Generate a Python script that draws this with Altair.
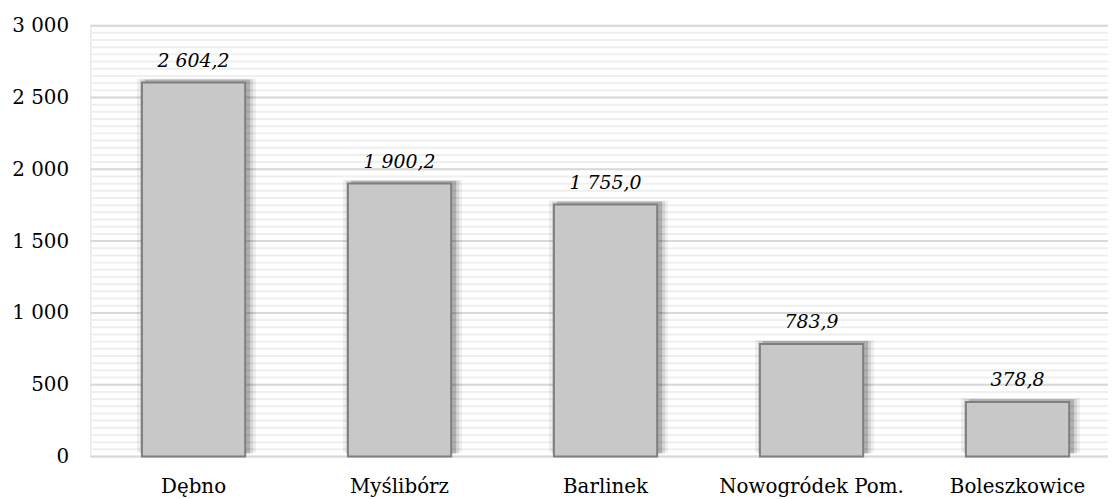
import altair as alt
import pandas as pd

categories = ["Dębno", "Myślibórz", "Barlinek", "Nowogródek Pom.", "Boleszkowice"]
values = [2604.2, 1900.2, 1755.0, 783.9, 378.8]
y_ticks = [0, 500, 1000, 1500, 2000, 2500, 3000]
minor_ticks = list(range(0, 3001, 50))

df = pd.DataFrame({"cat": categories, "val": values})
grid_df = pd.DataFrame({"val": minor_ticks})
major_df = pd.DataFrame({"val": y_ticks})

FONT = "DejaVu Serif"
W, H = 1025, 434

x_enc = alt.X("cat:N", sort=categories, title=None,
              scale=alt.Scale(paddingInner=0.5, paddingOuter=0.22, align=0.57),
              axis=alt.Axis(labelFont=FONT, labelFontSize=20, labelColor="#000000",
                            labelAngle=0, domain=False, ticks=False, labelPadding=20,
                            labelBaseline="top", labelLimit=0))
y_enc = alt.Y("val:Q", scale=alt.Scale(domain=[0, 3000], nice=False), title=None,
              axis=alt.Axis(values=y_ticks, labelFont=FONT, labelFontSize=20,
                            labelColor="#000000", domain=False, ticks=False, grid=False,
                            labelPadding=22,
                            labelExpr="replace(format(datum.value, ',.0f'), ',', ' ')"))

minor = alt.Chart(grid_df).mark_rule(color="#efefef", strokeWidth=2).encode(y=y_enc)
major = alt.Chart(major_df).mark_rule(color="#d9d9d9", strokeWidth=2).encode(y=y_enc)

base = alt.Chart(df)
shadow0 = base.mark_bar(color="#000000", opacity=0.06, size=120, xOffset=3, yOffset=-4).encode(
    x=x_enc, y=y_enc)
shadow1 = base.mark_bar(color="#000000", opacity=0.10, size=114, xOffset=3, yOffset=-3).encode(
    x=x_enc, y=y_enc)
shadow2 = base.mark_bar(color="#000000", opacity=0.18, size=106, xOffset=4, yOffset=-3).encode(
    x=x_enc, y=y_enc)
bars = base.mark_bar(fill="#c8c8c8", stroke="#7f7f7f", strokeWidth=2, size=104).encode(
    x=x_enc, y=y_enc)
labels = base.transform_calculate(
    lab="replace(replace(format(datum.val, ',.1f'), ',', ' '), '.', ',')"
).mark_text(font=FONT, fontSize=19, fontStyle="italic", color="#000000",
            baseline="alphabetic", dy=-16).encode(
    x=x_enc, y=y_enc, text="lab:N")

chart = alt.layer(minor, major, shadow0, shadow1, shadow2, bars, labels).properties(
    width=W, height=H,
    autosize=alt.AutoSizeParams(type="none"),
    padding={"left": 83, "top": 16, "right": 0, "bottom": 40},
).configure_view(stroke="#d9d9d9", strokeWidth=2).configure(background="#ffffff")

chart.save("out.html", embed_options={"renderer": "svg", "actions": False})
